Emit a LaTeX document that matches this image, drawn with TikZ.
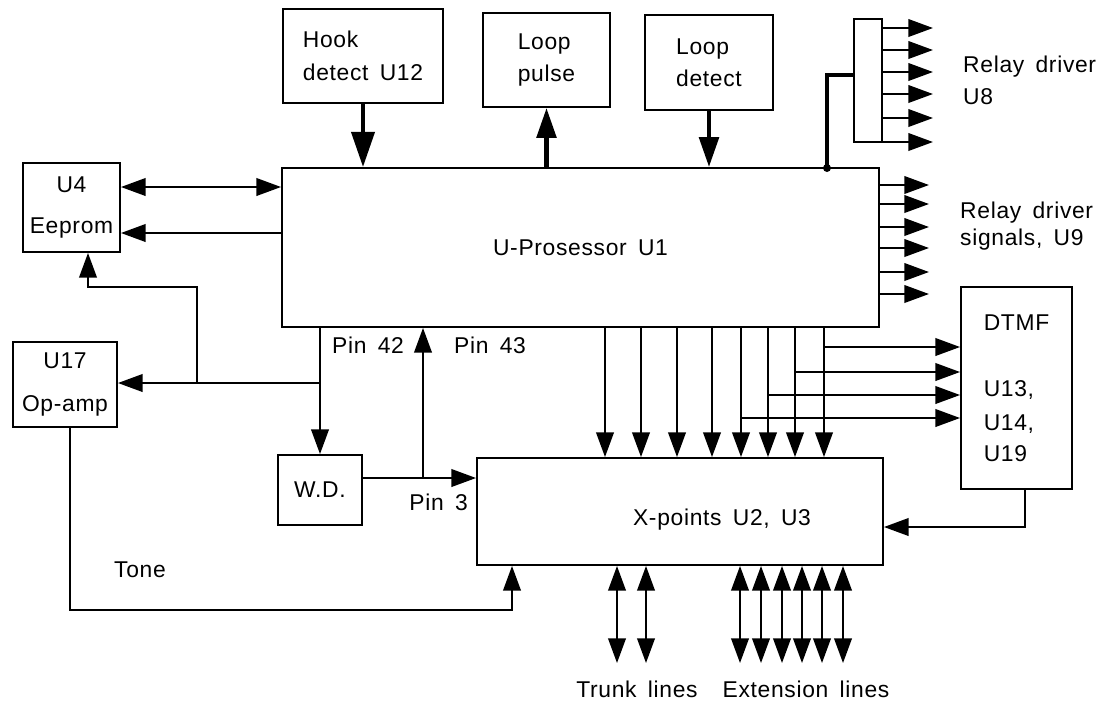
\documentclass[tikz,border=0pt]{standalone}
\usepackage{fontspec}
\setmainfont{Liberation Sans}[LetterSpace=3,WordSpace=1.6]
\usepackage{tikz}
\usetikzlibrary{arrows.meta,positioning}

\tikzset{
  every node/.style={font=\fontsize{13}{15.6}\selectfont},
  boxsize/.style 2 args={minimum width=#1*0.02cm,minimum height=#2*0.02cm},
  blk/.style={draw,line width=1.1pt,inner sep=0pt,align=left},
  sig/.style={line width=1.1pt,-{Triangle[length=14pt,width=10pt]}},
  dsig/.style={line width=1.1pt,{Triangle[length=14pt,width=10pt]}-{Triangle[length=14pt,width=10pt]}},
  bus/.style={line width=2.5pt,-{Triangle[length=17pt,width=11pt]}}
}

\begin{document}
\begin{tikzpicture}[x=0.02cm,y=-0.02cm]
  \useasboundingbox (0,0) rectangle (1102,708);

  \node[blk,boxsize={597}{159}] (main) at (580.5,247.5) {U-Prosessor U1};
  \node[blk,boxsize={160}{94}] (hook) at (363,56) {Hook\\[3pt]detect U12};
  \node[blk,boxsize={127}{94}] (lpulse) at (546.5,60) {Loop\\[2.5pt]pulse};
  \node[blk,boxsize={128}{95}] (ldet) at (709,62.5) {Loop\\[2.5pt]detect};
  \node[blk,boxsize={28}{123}] (udrv) at (868,80.5) {};
  \node[blk,boxsize={97}{89},align=center] (eeprom) at (71.5,207.5) {U4\\[8pt]Eeprom};
  \node[blk,boxsize={104}{85},align=center] (opamp) at (65,384.5) {U17\\[8.5pt]Op-amp};
  \node[blk,boxsize={84}{70}] (wd) at (320,490) {W.D.};
  \node[blk,boxsize={406}{107}] (xpt) at (680,511.5) {};
  \node (xtxt) at (722,520) {X-points U2, U3};
  \node[blk,boxsize={111}{202}] (dtmf) at (1016.5,388) {DTMF\\[21.8pt]U13,\\[3.7pt]U14,\\[2pt]U19};

  \node[anchor=west,align=left] (rd8) at (957,80.5) {Relay driver\\[2.5pt]U8};
  \node[anchor=west,align=left] (rd9) at (954,226) {Relay driver\\[0pt]signals, U9};

  \draw[bus,-{Triangle[length=20pt,width=13pt]}] (hook.south) -- (hook.south |- main.north);
  \draw[bus] (lpulse.south |- main.north) -- (lpulse.south);
  \draw[bus] (ldet.south) -- (ldet.south |- main.north);
  \coordinate (tap) at (827,168);
  \draw[line width=2.5pt] (tap) -- (827,75) -- (827,75 -| udrv.west);
  \fill (tap) circle (4);
  \foreach \y in {28,50,72,94,118,142}
    \draw[sig] (udrv.east |- 0,\y) -- ++(50,0);
  \foreach \y in {185,204,227,248,272,294}
    \draw[sig] (main.east |- 0,\y) -- ++(49,0);

  \draw[dsig] (eeprom.east |- 0,187) -- (main.west |- 0,187);
  \draw[sig] (main.west |- 0,233) -- (eeprom.east |- 0,233);

  \coordinate (j42) at (wd.north |- 0,383);
  \draw[sig] (wd.north |- main.south) -- (wd.north);
  \draw[sig] (j42) -- (j42 -| opamp.east);
  \coordinate (jee) at (197,383);
  \draw[sig] (jee) -- (197,287) -- (88,287) -- (88,0 |- eeprom.south);
  \node[anchor=west] (p42) at (326,345) {Pin 42};

  \coordinate (j43) at (423,478);
  \draw[sig] (j43) -- (j43 |- main.south);
  \node[anchor=west] (p43) at (448,345) {Pin 43};
  \draw[sig] (wd.east |- 0,478) -- (xpt.west |- 0,478);
  \node[anchor=east] (p3) at (474,502) {Pin 3};

  \draw[sig] (70,0 |- opamp.south) -- (70,610) -- (512,610) -- (512,0 |- xpt.south);
  \node (tone) at (140,570) {Tone};

  \foreach \x in {605,641,677,712,741,768,795,824}
    \draw[sig] (\x,0 |- main.south) -- (\x,0 |- xpt.north);
  \foreach \x/\y in {824/347,795/372,768/395,741/418}
    \draw[sig] (\x,\y) -- (dtmf.west |- 0,\y);
  \draw[sig] (1025,0 |- dtmf.south) -- (1025,527) -- (xpt.east |- 0,527);

  \foreach \x in {617,646}
    \draw[dsig] (\x,0 |- xpt.south) -- (\x,663);
  \foreach \x in {740,761,782,802,822,843}
    \draw[dsig] (\x,0 |- xpt.south) -- (\x,663);
  \node (trunk) at (637,689) {Trunk lines};
  \node (ext) at (806,689) {Extension lines};
\end{tikzpicture}
\end{document}
